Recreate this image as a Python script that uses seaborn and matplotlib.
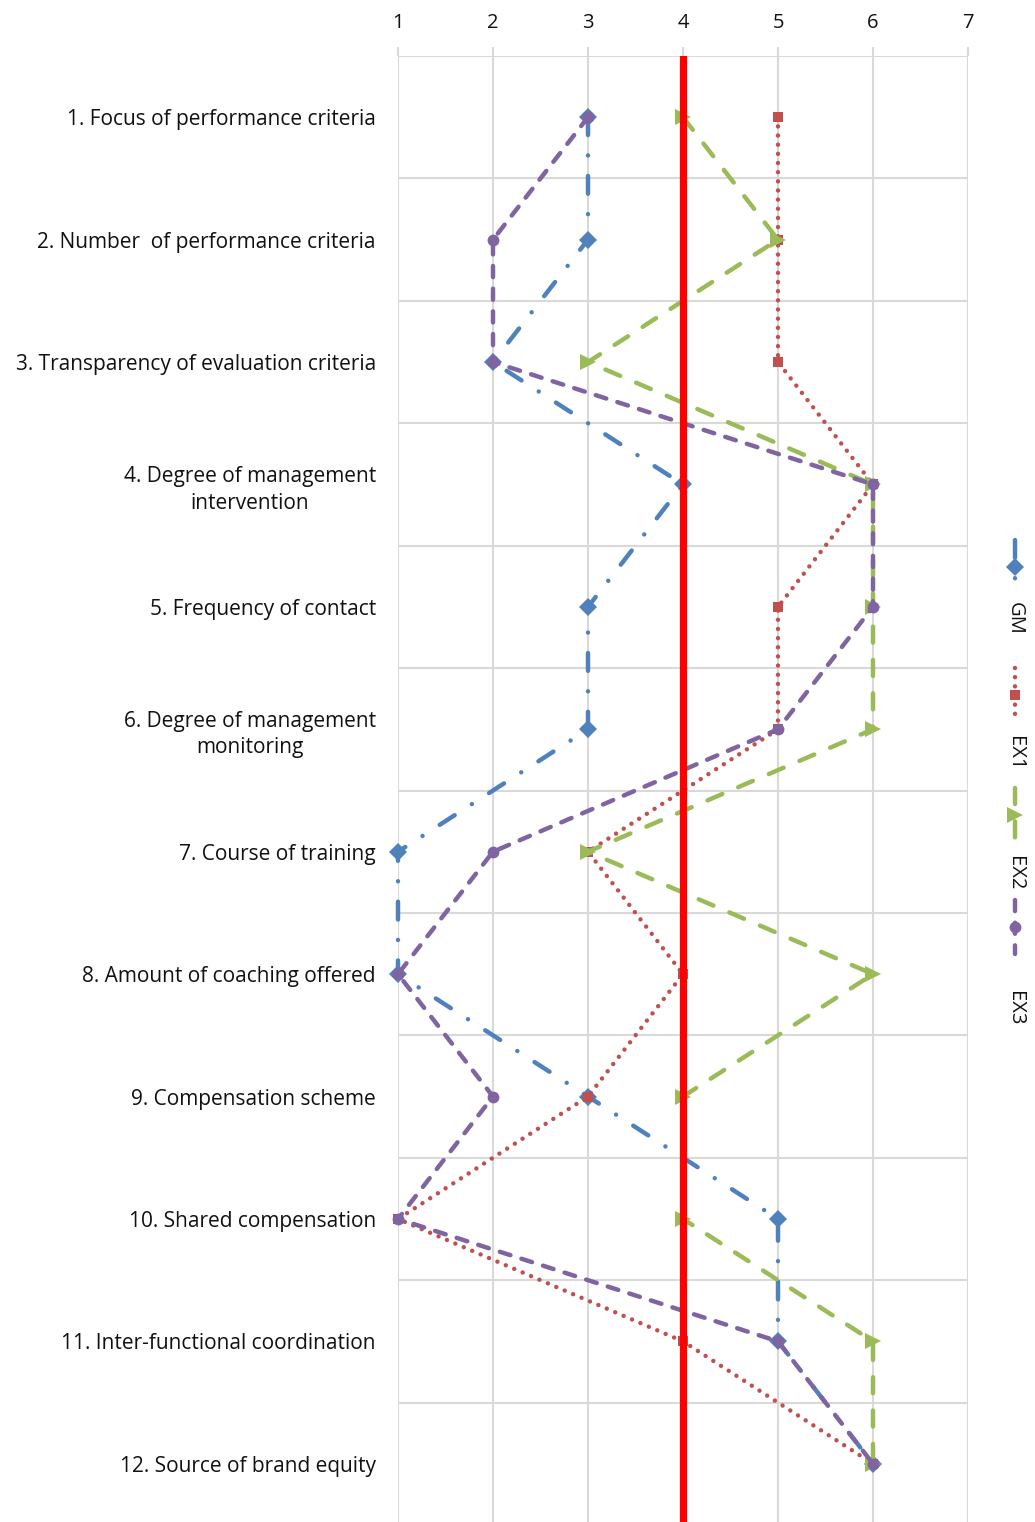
import matplotlib
matplotlib.use("Agg")
import matplotlib.pyplot as plt
from matplotlib.lines import Line2D
import numpy as np
import pandas as pd
import seaborn as sns

# Dimensions rated on the 1-7 scale (top to bottom)
categories = [
    "1. Focus of performance criteria",
    "2. Number  of performance criteria",
    "3. Transparency of evaluation criteria",
    "4. Degree of management\nintervention",
    "5. Frequency of contact",
    "6. Degree of management\nmonitoring",
    "7. Course of training",
    "8. Amount of coaching offered",
    "9. Compensation scheme",
    "10. Shared compensation",
    "11. Inter-functional coordination",
    "12. Source of brand equity",
]

gm_scores = [3, 3, 2, 4, 3, 3, 1, 1, 3, 5, 5, 6]
ex1_scores = [5, 5, 5, 6, 5, 5, 3, 4, 3, 1, 4, 6]
ex2_scores = [4, 5, 3, 6, 6, 6, 3, 6, 4, 4, 6, 6]
ex3_scores = [3, 2, 2, 6, 6, 5, 2, 1, 2, 1, 5, 6]

series_names = ["GM", "EX1", "EX2", "EX3"]
scale_ticks = [1, 2, 3, 4, 5, 6, 7]
midpoint = 4

sns.set_style("white")
plt.rcParams["font.family"] = ["Open Sans", "DejaVu Sans"]
plt.rcParams["text.color"] = "#111111"
plt.rcParams["xtick.labelcolor"] = "#111111"
plt.rcParams["ytick.labelcolor"] = "#111111"

W, H = 1035, 1522
fig = plt.figure(figsize=(W / 100, H / 100), dpi=100)
ax = fig.add_axes([398 / W, (H - 1525) / H, (968 - 398) / W, (1525 - 56) / H])

rows = np.arange(1, len(categories) + 1)
df = pd.DataFrame({
    "row": np.tile(rows, 4),
    "score": gm_scores + ex1_scores + ex2_scores + ex3_scores,
    "series": np.repeat(series_names, len(categories)),
})

styles = {
    "GM": dict(color="#4F81BD", linestyle=(0, (4.0, 4.6, 0.01, 4.6)), marker="D", markersize=9),
    "EX1": dict(color="#C0504D", linestyle=(0, (0.01, 2.05)), marker="s", markersize=7.5),
    "EX2": dict(color="#9BBB59", linestyle=(0, (3.6, 3.9)), marker=">", markersize=11),
    "EX3": dict(color="#8064A2", linestyle=(0, (2.5, 2.6)), marker="o", markersize=8.5),
}
LW = 3.2

for name in series_names:
    st = styles[name]
    sub = df[df["series"] == name]
    sns.lineplot(
        data=sub, x="score", y="row", ax=ax, sort=False, estimator=None,
        color=st["color"], linestyle=st["linestyle"], marker=st["marker"],
        markersize=st["markersize"], markeredgewidth=0, linewidth=LW,
        dash_capstyle="round", clip_on=False, zorder=3,
    )

# Neutral midpoint of the scale
ax.axvline(midpoint, color="#FF0000", linewidth=5.2, zorder=6)

ax.set_xlim(1, 7)
ax.set_ylim(12.5, 0.5)
ax.xaxis.tick_top()
ax.set_xticks(scale_ticks)
ax.set_xticklabels([str(t) for t in scale_ticks], fontsize=14.5)
ax.set_yticks(rows)
ax.set_yticklabels(categories, fontsize=15, multialignment="center", linespacing=1.35)
ax.set_yticks(np.arange(0.5, 13, 1), minor=True)
ax.set_xlabel("")
ax.set_ylabel("")

grid_color = "#D9D9D9"
ax.grid(axis="x", which="major", color=grid_color, linewidth=1.5)
ax.grid(axis="y", which="minor", color=grid_color, linewidth=1.5)
ax.grid(axis="y", which="major", visible=False)
ax.tick_params(axis="x", which="major", length=6.5, width=1.5, color=grid_color, pad=10, top=True, bottom=False)
ax.tick_params(axis="y", which="both", length=0, pad=16)
ax.tick_params(axis="x", which="minor", length=0)
for sp in ax.spines.values():
    sp.set_visible(False)
ax.set_axisbelow(True)

# Vertical legend on the right
legend_x = 1015 / W
legend_rows = [(567, 618), (695, 753), (815, 873), (927, 1008)]
for name, (ly, ty) in zip(series_names, legend_rows):
    st = styles[name]
    y0, y1 = (H - (ly - 27)) / H, (H - (ly + 27)) / H
    fig.add_artist(Line2D(
        [legend_x, legend_x, legend_x], [y0, (y0 + y1) / 2, y1],
        transform=fig.transFigure, color=st["color"], linestyle=st["linestyle"],
        linewidth=LW, dash_capstyle="round", marker=st["marker"],
        markersize=st["markersize"], markeredgewidth=0, markevery=[1],
    ))
    fig.text(legend_x, (H - ty) / H, name, rotation=-90, ha="center", va="center", fontsize=14.5)

fig.savefig("out.png", dpi=100)
